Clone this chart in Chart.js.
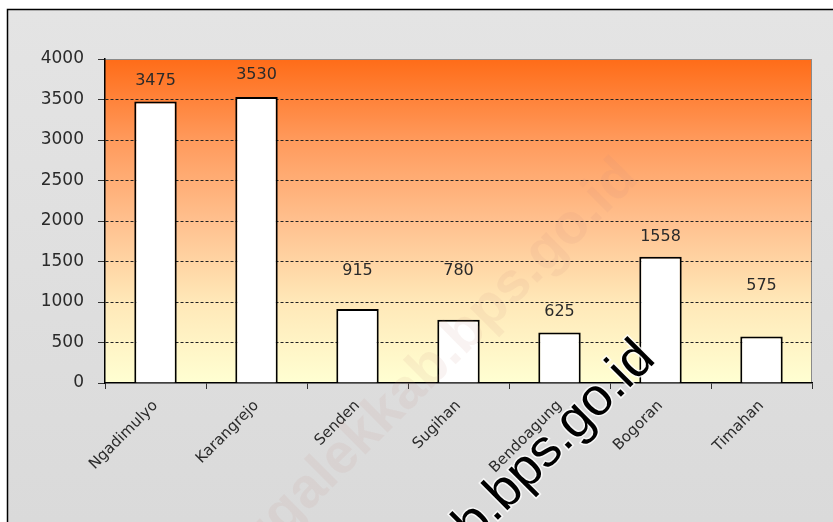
<!DOCTYPE html>
<html>
<head>
<meta charset="utf-8">
<script src="https://cdn.jsdelivr.net/npm/chart.js@4.4.0/dist/chart.umd.min.js"></script>
<style>
  html, body { margin: 0; padding: 0; background: #fff; }
  #wrap { width: 833px; height: 522px; }
</style>
</head>
<body>
<div id="wrap"><canvas id="chart" width="833" height="522"></canvas></div>
<script>
// data
const desa = ['Ngadimulyo', 'Karangrejo', 'Senden', 'Sugihan', 'Bendoagung', 'Bogoran', 'Timahan'];
const jumlah = [3475, 3530, 915, 780, 625, 1558, 575];
const yTicks = [0, 500, 1000, 1500, 2000, 2500, 3000, 3500, 4000];

// jarak label angka di atas batang (px)
const labelGap = [21, 22, 38, 49, 21, 20, 51];

const FONT = '"DejaVu Sans", "Liberation Sans", Arial, sans-serif';

// latar belakang abu-abu + bingkai
const frame = {
    id: 'frame',
    beforeDraw(chart) {
        const { ctx, width, height, chartArea: a } = chart;
        ctx.save();
        ctx.fillStyle = '#fff';
        ctx.fillRect(0, 0, width, height);
        const bg = ctx.createLinearGradient(0, 10, 0, height);
        bg.addColorStop(0, '#e4e4e4');
        bg.addColorStop(1, '#dadada');
        ctx.fillStyle = bg;
        ctx.fillRect(8, 10, width - 8, height - 10);
        ctx.strokeStyle = '#000';
        ctx.lineWidth = 1.5;
        ctx.beginPath();
        ctx.moveTo(7.5, height);
        ctx.lineTo(7.5, 9.5);
        ctx.lineTo(width, 9.5);
        ctx.stroke();

        // area plot gradasi oranye -> kuning pucat
        const g = ctx.createLinearGradient(0, a.top, 0, a.bottom);
        g.addColorStop(0, '#ff6c18');
        g.addColorStop(0.25, '#ff9a5c');
        g.addColorStop(0.5, '#ffc08e');
        g.addColorStop(0.75, '#ffe8b8');
        g.addColorStop(1, '#ffffd2');
        ctx.fillStyle = g;
        ctx.fillRect(a.left, a.top, a.right - a.left, a.bottom - a.top);
        ctx.strokeStyle = '#8a8a8a';
        ctx.lineWidth = 1;
        ctx.beginPath();
        ctx.moveTo(a.left, a.top + 0.5);
        ctx.lineTo(a.right - 0.5, a.top + 0.5);
        ctx.lineTo(a.right - 0.5, a.bottom);
        ctx.stroke();
        ctx.restore();
    }
};

// label angka di atas batang
const valueLabels = {
    id: 'valueLabels',
    afterDatasetsDraw(chart) {
        const { ctx } = chart;
        const meta = chart.getDatasetMeta(0);
        ctx.save();
        ctx.font = '16px ' + FONT;
        ctx.fillStyle = '#2a2a2a';
        ctx.textAlign = 'center';
        ctx.textBaseline = 'middle';
        meta.data.forEach((bar, i) => {
            ctx.fillText(String(jumlah[i]), bar.x, bar.y - labelGap[i]);
        });
        ctx.restore();
    }
};

// watermark
const watermark = {
    id: 'watermark',
    afterDraw(chart) {
        const { ctx } = chart;
        ctx.save();
        ctx.translate(640, 180);
        ctx.rotate(-Math.PI / 4);
        ctx.font = 'bold 56px "Liberation Sans", Arial, sans-serif';
        ctx.fillStyle = 'rgba(200, 140, 130, 0.10)';
        ctx.textAlign = 'right';
        ctx.textBaseline = 'alphabetic';
        ctx.fillText('trenggalekkab.bps.go.id', 0, 0);
        ctx.restore();

        ctx.save();
        ctx.translate(555, 442);
        ctx.rotate(-Math.PI / 4);
        ctx.font = '53px "Liberation Sans", Arial, sans-serif';
        ctx.textAlign = 'center';
        ctx.textBaseline = 'middle';
        ctx.lineWidth = 3;
        ctx.strokeStyle = 'rgba(255,255,255,0.8)';
        ctx.strokeText('b.bps.go.id', 0, 0);
        ctx.fillStyle = '#000';
        ctx.fillText('b.bps.go.id', 0, 0);
        ctx.restore();
    }
};

new Chart(document.getElementById('chart'), {
    type: 'bar',
    data: {
        labels: desa,
        datasets: [{
            data: jumlah,
            backgroundColor: '#ffffff',
            borderColor: '#000000',
            borderWidth: 2,
            borderSkipped: 'bottom',
            categoryPercentage: 1,
            barPercentage: 0.42
        }]
    },
    options: {
        responsive: false,
        animation: false,
        layout: { padding: { left: 8, top: 59, right: 21, bottom: 0 } },
        plugins: {
            legend: { display: false },
            tooltip: { enabled: false }
        },
        scales: {
            x: {
                afterFit(scale) { scale.height = 139; },
                grid: {
                    offset: true,
                    drawOnChartArea: false,
                    tickLength: 6,
                    tickColor: '#333',
                    tickWidth: 1
                },
                border: { color: '#000', width: 1.5 },
                ticks: {
                    maxRotation: 45,
                    minRotation: 45,
                    padding: 8,
                    color: '#2a2a2a',
                    font: { family: FONT, size: 15 }
                }
            },
            y: {
                min: 0,
                max: 4000,
                afterFit(scale) { scale.width = 97; },
                afterBuildTicks(scale) { scale.ticks = yTicks.map(v => ({ value: v })); },
                grid: {
                    color: ctx => (ctx.tick && (ctx.tick.value === 0 || ctx.tick.value === 4000)) ? 'rgba(0,0,0,0)' : '#222',
                    lineWidth: 1,
                    tickLength: 7,
                    tickColor: '#333',
                    tickWidth: 1
                },
                border: { color: '#000', width: 1.5, dash: [3, 2] },
                ticks: {
                    padding: 14,
                    color: '#2a2a2a',
                    font: { family: FONT, size: 17 },
                    callback: v => String(v)
                }
            }
        }
    },
    plugins: [frame, valueLabels, watermark]
});
</script>
</body>
</html>
